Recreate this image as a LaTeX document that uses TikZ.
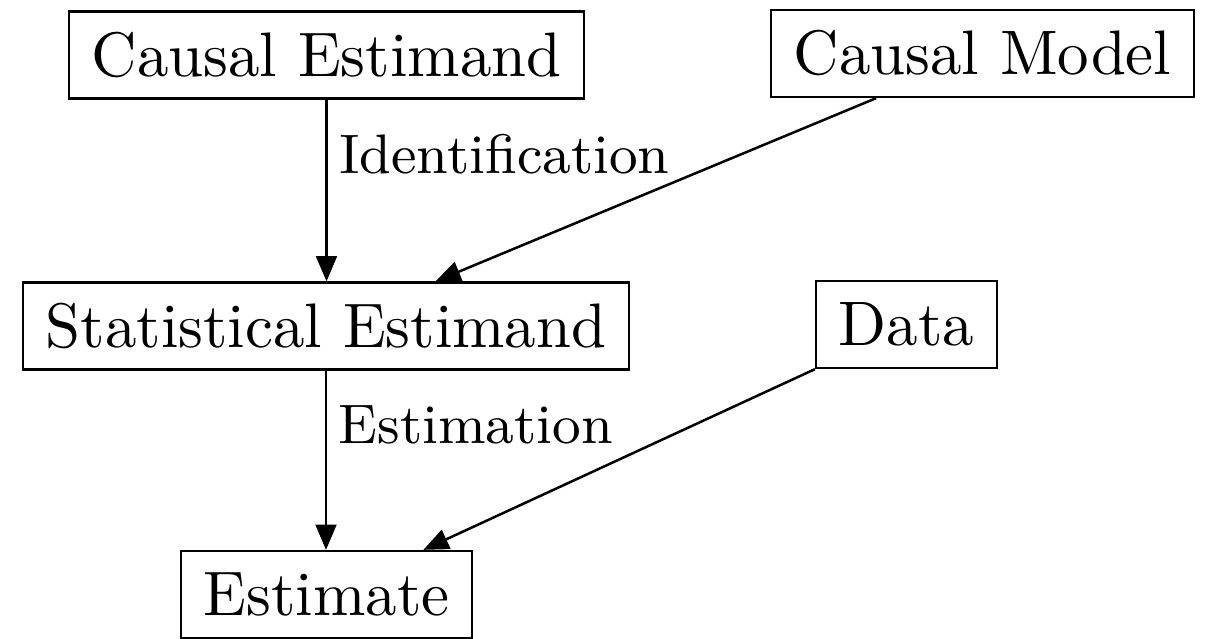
\documentclass[tikz,border=0pt]{standalone}
\usetikzlibrary{arrows.meta,calc}
\begin{document}
\begin{tikzpicture}[x=0.159pt,y=-0.159pt,
  box/.style={draw,line width=0.4pt,inner xsep=3.6pt,inner ysep=0pt,minimum height=13.8pt},
  conn/.style={line width=0.4pt,-{Triangle[length=4pt,width=3.3pt]}},
  lbl/.style={anchor=west,inner sep=0pt,font=\fontsize{8.85pt}{11pt}\selectfont}]
\useasboundingbox (0,0) rectangle (1206,638);
\node[box] (ce) at (326.5,55) {Causal Estimand};
\node[box] (cm) at (982.5,53.5) {Causal Model};
\node[box] (se) at (326,326) {Statistical Estimand};
\node[box] (da) at (906.5,324.5) {Data};
\node[box] (es) at (326.5,594.5) {Estimate};
\coordinate (cmout) at ($(cm.south west)!0.25!(cm.south east)$);
\coordinate (sein) at ($(se.north west)!0.68!(se.north east)$);
\coordinate (esin) at ($(es.north west)!0.83!(es.north east)$);
\draw[conn] (ce.south) -- node[lbl,pos=0.3,xshift=1.8pt] (idl) {Identification} (ce.south |- se.north);
\draw[conn] (cmout) -- (sein);
\draw[conn] (se.south) -- node[lbl,pos=0.3,xshift=1.8pt] (estl) {Estimation} (se.south |- es.north);
\draw[conn] (da.south west) -- (esin);
\end{tikzpicture}
\end{document}
